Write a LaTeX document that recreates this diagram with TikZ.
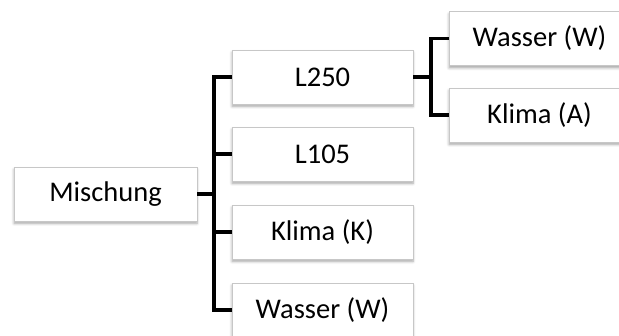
\documentclass[tikz,border=0pt]{standalone}
\usepackage{fontspec}
\setmainfont{Carlito}
\usetikzlibrary{shadows.blur}
\begin{document}
\begin{tikzpicture}[x=1pt,y=-1pt,
  box/.style={draw=black!22, line width=0.8pt, fill=white, rectangle,
    minimum width=181pt, minimum height=54pt, inner sep=0pt,
    font=\fontsize{28.5}{32}\selectfont,
    blur shadow={shadow xshift=0pt, shadow yshift=-2.5pt, shadow blur steps=6, shadow blur radius=2.5pt, shadow opacity=35}},
  conn/.style={line width=3.8pt, line join=miter, black}]
\useasboundingbox (0,0) rectangle (619,336);
\clip (0,0) rectangle (619,336);
% root
\node[box, minimum width=183pt] (mix) at (105.5,194) {Mischung};
% first level
\node[box] (l250) at (322.5,77) {L250};
\node[box] (l105) at (322.5,154) {L105};
\node[box] (kk) at (322.5,232) {Klima (K)};
\node[box] (ww) at (322.5,310) {Wasser (W)};
% second level
\node[box] (wr) at (539.5,38.5) {Wasser (W)};
\node[box] (ka) at (539.5,115) {Klima (A)};
% connectors, root to first level
\draw[conn] (mix.east) -- ++(17,0);
\draw[conn] (l250.west) -- ++(-18,0) |- (ww.west);
\draw[conn] (l105.west) -- ++(-18,0);
\draw[conn] (kk.west) -- ++(-18,0);
% connectors, L250 to second level
\draw[conn] (l250.east) -- ++(18,0);
\draw[conn] (wr.west) -- ++(-18,0) |- (ka.west);
\end{tikzpicture}
\end{document}
